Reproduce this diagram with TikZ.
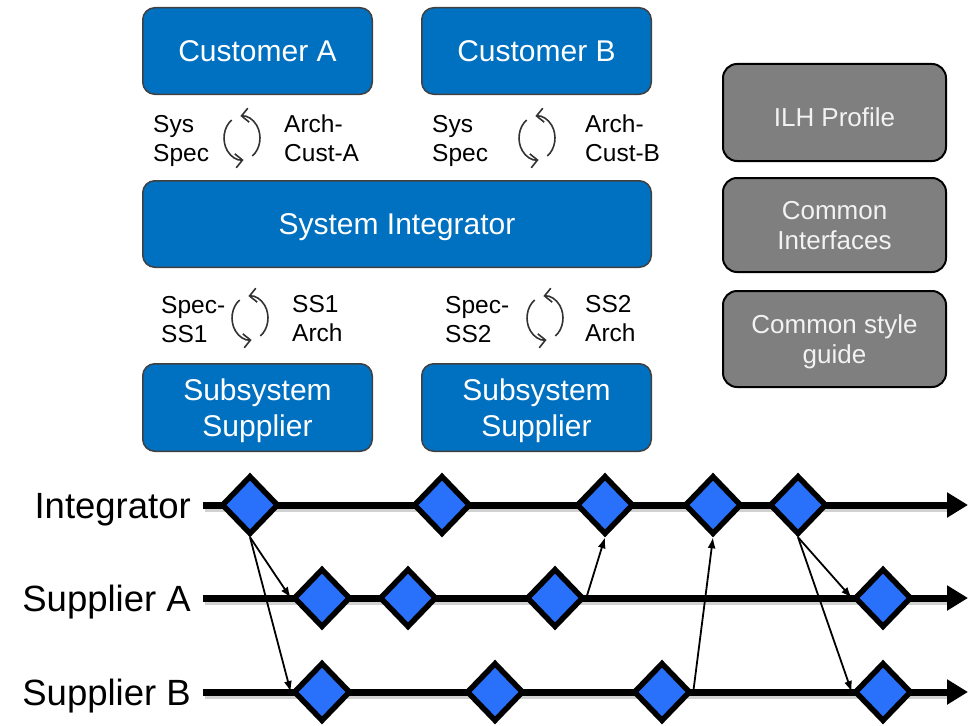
\documentclass[tikz,border=0pt]{standalone}
\usepackage{fontspec}
\setmainfont{Liberation Sans}
\usetikzlibrary{arrows.meta,shapes.geometric,shadows,calc}
\definecolor{boxblue}{RGB}{0,112,192}
\definecolor{boxedge}{RGB}{64,64,64}
\definecolor{boxgray}{RGB}{127,127,127}
\definecolor{graytext}{RGB}{242,242,242}
\definecolor{msblue}{RGB}{41,113,250}
\definecolor{cycgray}{RGB}{50,50,50}
\begin{document}
\begin{tikzpicture}[x=1pt,y=-1pt,
  bluebox/.style={draw=boxedge, line width=1.5pt, fill=boxblue, rounded corners=12pt,
    text=white, font=\fontsize{30}{35.5}\selectfont, align=center, inner sep=0pt,
    text depth=0pt},
  graybox/.style={draw=black, line width=2pt, fill=boxgray, rounded corners=14pt,
    text=graytext, font=\fontsize{26}{30}\selectfont, align=center, inner sep=0pt,
    minimum width=223pt, text depth=0pt},
  lbl/.style={anchor=west, align=left, inner sep=0pt, font=\fontsize{24.5}{29}\selectfont},
  tllabel/.style={anchor=base east, inner sep=0pt, font=\fontsize{36.5}{40}\selectfont},
  tline/.style={line width=7pt, -{Triangle[length=21pt,width=24pt]}},
  tshadow/.style={line width=7pt, draw=black, opacity=0.18},
  ms/.style={diamond, draw=black, line width=5.5pt, fill=msblue, minimum width=57pt,
    minimum height=59pt, inner sep=0pt,
    drop shadow={shadow xshift=1.5pt, shadow yshift=-2.5pt, opacity=0.25}},
  link/.style={line width=1.8pt, -{Latex[length=11pt,width=8pt]}},
  cyc/.style={draw=cycgray, line width=1.6pt, -{Straight Barb[length=7pt,width=14pt]}}
]
\useasboundingbox (0,0) rectangle (971,725);

% ---- top blue boxes
\node[bluebox, minimum width=229.5pt, minimum height=86.5pt] (custA) at (257.5,51) {Customer A};
\node[bluebox, minimum width=229.5pt, minimum height=86.5pt] (custB) at (536.5,51) {Customer B};
\node[bluebox, minimum width=508.5pt, minimum height=86.5pt] (si) at (397,224) {System Integrator};
\node[bluebox, minimum width=229.5pt, minimum height=87.5pt] (ss1) at (257.5,407.5) {Subsystem\\Supplier};
\node[bluebox, minimum width=229.5pt, minimum height=87.5pt] (ss2) at (536.5,407.5) {Subsystem\\Supplier};

% ---- gray boxes
\node[graybox, minimum height=97pt, text height=27pt] (ilh) at (834.5,112.5) {ILH Profile};
\node[graybox, minimum height=94pt] (ci) at (834.5,225) {Common\\Interfaces};
\node[graybox, minimum height=96pt] (csg) at (834.5,339) {Common style\\guide};

% ---- labels
\node[lbl] (l1) at (153,141) {Sys\\Spec};
\node[lbl] (l2) at (284,138.5) {Arch-\\Cust-A};
\node[lbl] (l3) at (432,141) {Sys\\Spec};
\node[lbl] (l4) at (585,138.5) {Arch-\\Cust-B};
\node[lbl] (l5) at (161,320) {Spec-\\SS1};
\node[lbl] (l6) at (292,318.5) {SS1\\Arch};
\node[lbl] (l7) at (445,320) {Spec-\\SS2};
\node[lbl] (l8) at (585,318.5) {SS2\\Arch};

% ---- cycle icons
\foreach \cx/\cy [count=\k] in {242/138, 537/138, 250/318, 545/318} {
  \coordinate (cyc\k) at (\cx,\cy);
  \draw[cyc] ($(cyc\k)+(10.3,18.0)$) arc[start angle=55, end angle=-95, x radius=18, y radius=22];
  \draw[cyc] ($(cyc\k)+(-10.3,-18.0)$) arc[start angle=-125, end angle=-275, x radius=18, y radius=22];
}

% ---- timelines
\coordinate (i0) at (203,505); \coordinate (i1) at (968,505);
\coordinate (a0) at (203,598); \coordinate (a1e) at (968,598);
\coordinate (b0) at (203,692); \coordinate (b1e) at (968,692);
\draw[tshadow] ([shift={(1.5,3)}]i0) -- ([shift={(-20,3)}]i1);
\draw[tshadow] ([shift={(1.5,3)}]a0) -- ([shift={(-20,3)}]a1e);
\draw[tshadow] ([shift={(1.5,3)}]b0) -- ([shift={(-20,3)}]b1e);
\draw[tline] (i0) -- (i1);
\draw[tline] (a0) -- (a1e);
\draw[tline] (b0) -- (b1e);

\node[tllabel] (tI) at (191,518) {Integrator};
\node[tllabel] (tA) at (191,611) {Supplier A};
\node[tllabel] (tB) at (191,705) {Supplier B};

% ---- milestones
\node[ms] (d1) at (250,505) {};
\node[ms] (d2) at (442,505) {};
\node[ms] (d3) at (605,505) {};
\node[ms] (d4) at (713,505) {};
\node[ms] (d5) at (798,505) {};
\node[ms] (sa1) at (322,598) {};
\node[ms] (sa2) at (408,598) {};
\node[ms] (sa3) at (555,598) {};
\node[ms] (sa4) at (883,598) {};
\node[ms] (sb1) at (322,692) {};
\node[ms] (sb2) at (495,692) {};
\node[ms] (sb3) at (662,692) {};
\node[ms] (sb4) at (883,692) {};

% ---- links
\draw[link] (d1.south) -- (sa1.west);
\draw[link] (d1.south) -- (sb1.west);
\draw[link] (sa3.east) -- (d3.south);
\draw[link] (sb3.east) -- (d4.south);
\draw[link] (d5.south) -- (sa4.west);
\draw[link] (d5.south) -- (sb4.west);
\end{tikzpicture}
\end{document}
